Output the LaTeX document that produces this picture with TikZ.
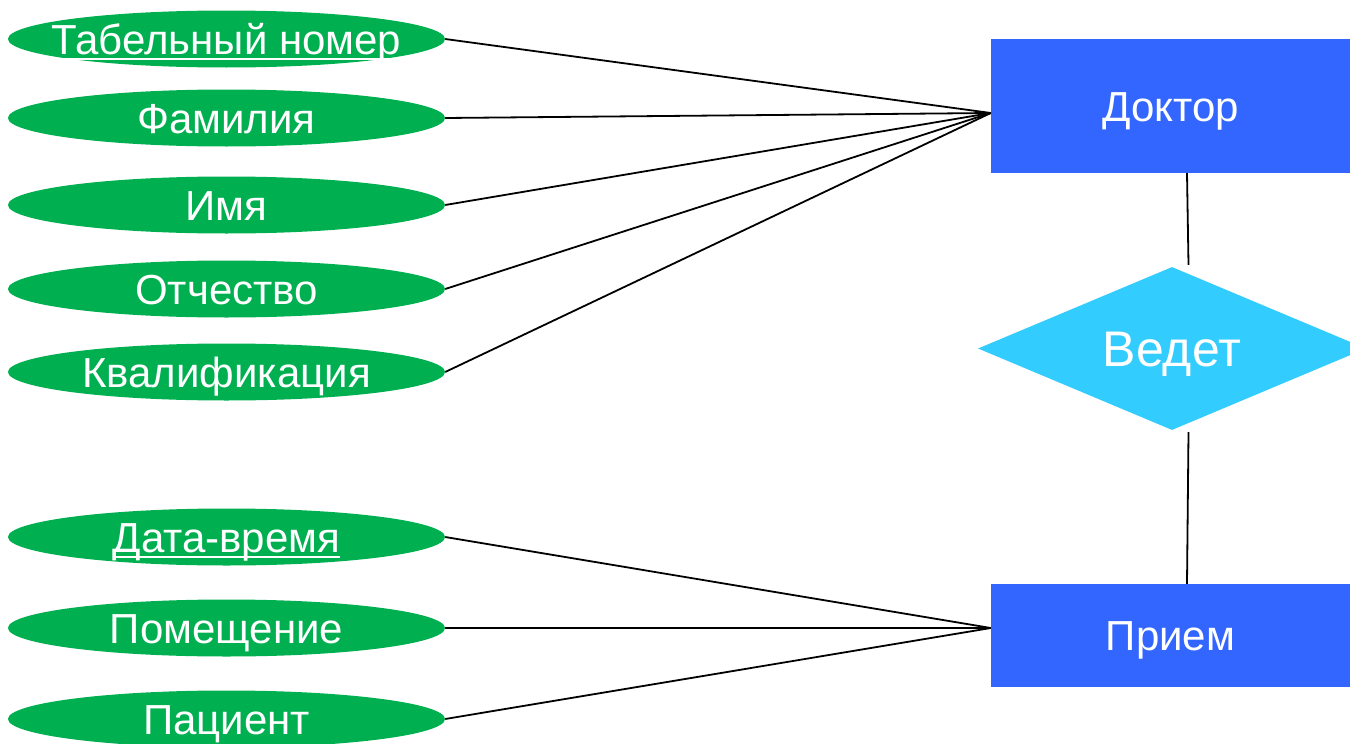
\documentclass[tikz,border=0pt]{standalone}
\usepackage{fontspec}
\setmainfont{Liberation Sans}
\usetikzlibrary{shapes.geometric,calc}
\definecolor{attrgreen}{HTML}{00B050}
\definecolor{entblue}{HTML}{3366FF}
\definecolor{relcyan}{HTML}{33CCFF}
\newcommand\ulx[1]{\setbox0\hbox{#1}\rlap{\rule[-0.15em]{\wd0}{0.05em}}\box0}
\newcommand\ctr[1]{\hbox to 0pt{\hss #1\hss}}
\tikzset{
  attr/.style={ellipse, fill=attrgreen, text=white, inner sep=0pt,
    minimum width=437pt, minimum height=57pt, font=\fontsize{42}{42}\selectfont,
    text height=30pt, text depth=0pt},
  entity/.style={rectangle, fill=entblue, text=white, inner sep=0pt,
    minimum width=359pt, font=\fontsize{42}{42}\selectfont,
    text height=30pt, text depth=0pt},
  rel/.style={diamond, fill=relcyan, text=white, inner sep=0pt,
    minimum width=388pt, minimum height=163pt, font=\fontsize{50}{50}\selectfont,
    text height=36pt, text depth=0pt},
  conn/.style={draw=black, line width=1.8pt}
}
\begin{document}
\begin{tikzpicture}[x=1pt,y=-1pt]
\useasboundingbox (0,0) rectangle (1350,744);
\clip (0,0) rectangle (1350,744);
\fill[white] (0,0) rectangle (1350,744);
% attributes
\node[attr] (tab) at (226.5,39) {\ctr{\ulx{Табельный номер}}};
\node[attr] (fam) at (226.5,118) {\ctr{Фамилия}};
\node[attr] (imya) at (226.5,205) {\ctr{Имя}};
\node[attr] (otch) at (226.5,289) {\ctr{Отчество}};
\node[attr] (kval) at (226.5,372) {\ctr{Квалификация}};
\node[attr] (data) at (226.5,537) {\ctr{\ulx{Дата-время}}};
\node[attr] (pom) at (226.5,628) {\ctr{Помещение}};
\node[attr] (pac) at (226.5,719) {\ctr{Пациент}};
% entities
\node[entity, minimum height=134pt] (dok) at (1170.5,106) {Доктор};
\node[entity, minimum height=103pt] (pri) at (1170.5,635.5) {Прием};
% relationship
\node[rel] (ved) at (1172,348.5) {\ctr{Ведет}};
% connectors
\foreach \a in {tab,fam,imya,otch,kval}
  \draw[conn] (\a.east) -- ([yshift=-7pt]dok.west);
\foreach \a in {data,pom,pac}
  \draw[conn] (\a.east) -- ([yshift=7.5pt]pri.west);
\draw[conn] ([xshift=16.5pt]dok.south) -- ([xshift=16.5pt,yshift=2pt]ved.north);
\draw[conn] ([xshift=16.5pt,yshift=-2pt]ved.south) -- ([xshift=16.5pt]pri.north);
\end{tikzpicture}
\end{document}
